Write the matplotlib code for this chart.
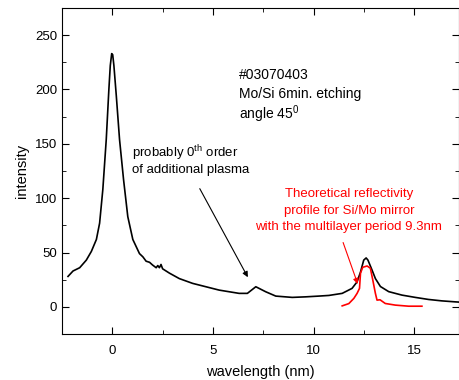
import matplotlib
matplotlib.use("Agg")
import matplotlib.pyplot as plt
from matplotlib.ticker import MultipleLocator

plt.rcParams['font.family'] = ['Liberation Sans', 'DejaVu Sans']
plt.rcParams['mathtext.fontset'] = 'custom'
plt.rcParams['mathtext.rm'] = 'Liberation Sans'
plt.rcParams['mathtext.it'] = 'Liberation Sans'

# measured spectrum (black)
wl = [-2.2, -1.95, -1.62, -1.29, -1.04, -0.79, -0.63, -0.47, -0.30, -0.17, -0.1,
      -0.03, 0.02, 0.08, 0.2, 0.36, 0.56, 0.77, 1.02, 1.35, 1.52, 1.68, 1.85, 2.0,
      2.18, 2.26, 2.34, 2.42, 2.5, 2.84, 3.33, 3.99, 4.65, 5.31, 6.30, 6.71, 7.13,
      7.62, 8.12, 8.94, 9.6, 10.26, 10.76, 11.42, 11.91, 12.16, 12.33, 12.49, 12.61,
      12.7, 12.9, 13.07, 13.32, 13.73, 14.39, 15.05, 15.71, 16.37, 17.03, 17.2]
intensity = [28, 33, 36, 43, 51, 62, 77, 108, 154, 200, 222,
             233, 232, 222, 194, 154, 117, 83, 62, 49, 46, 42, 41, 38.5,
             36, 38, 36, 39, 35, 31, 26, 21.6, 18.5, 15.4, 12.4, 12.4, 18.5,
             13.9, 9.9, 8.7, 9.2, 9.9, 10.5, 12.4, 17, 23, 32, 43, 45,
             43, 34, 26, 18.7, 14, 10.8, 8.7, 6.8, 5.5, 4.6, 4.4]

# theoretical reflectivity (red)
wl_th = [11.42, 11.75, 12.0, 12.16, 12.28, 12.33, 12.44, 12.66, 12.82, 12.94,
         13.07, 13.15, 13.3, 13.56, 14.06, 14.72, 15.38]
refl_th = [0.9, 3, 7.8, 12.4, 17, 31, 36.4, 37.6, 35.5, 24.7,
           12.4, 6.2, 6.5, 3.1, 1.6, 0.6, 0.6]

fig = plt.figure(figsize=(4.59, 3.8), dpi=100)
ax = fig.add_axes([0.135, 0.121, 0.864, 0.858])

ax.plot(wl, intensity, color='black', lw=1.2)
ax.plot(wl_th, refl_th, color='red', lw=1.2)

ax.set_xlim(-2.5, 17.2)
ax.set_ylim(-25, 275)
ax.xaxis.set_major_locator(MultipleLocator(5))
ax.xaxis.set_minor_locator(MultipleLocator(2.5))
ax.yaxis.set_major_locator(MultipleLocator(50))
ax.yaxis.set_minor_locator(MultipleLocator(25))
ax.tick_params(which='both', direction='in', top=True, right=True, labelsize=9.5)
ax.tick_params(which='major', length=5)
ax.tick_params(which='minor', length=3)
ax.tick_params(axis='x', pad=8)
ax.set_xlabel('wavelength (nm)', fontsize=10.5, labelpad=6)
ax.set_ylabel('intensity', fontsize=10.5)

ax.text(6.3, 213, '#03070403', fontsize=10, va='center')
ax.text(6.3, 196, 'Mo/Si 6min. etching', fontsize=10, va='center')
ax.text(6.3, 177, 'angle 45$^{0}$', fontsize=10, va='center')

ax.text(1.0, 141, 'probably 0$^{th}$ order', fontsize=9.5, va='center')
ax.text(1.0, 125.7, 'of additional plasma', fontsize=9.5, va='center')
ax.annotate('', xy=(6.8, 25), xytext=(4.28, 111),
            arrowprops=dict(arrowstyle='-|>', color='black', lw=0.8,
                            mutation_scale=8))

ax.text(11.75, 104, 'Theoretical reflectivity', color='red', fontsize=9.5,
        ha='center', va='center')
ax.text(11.75, 88.4, 'profile for Si/Mo mirror', color='red', fontsize=9.5,
        ha='center', va='center')
ax.text(11.75, 73.6, 'with the multilayer period 9.3nm', color='red', fontsize=9.5,
        ha='center', va='center')
ax.annotate('', xy=(12.24, 18.6), xytext=(11.42, 61.6),
            arrowprops=dict(arrowstyle='-|>', color='red', lw=0.8,
                            mutation_scale=8))

fig.savefig('out.png', dpi=100)
